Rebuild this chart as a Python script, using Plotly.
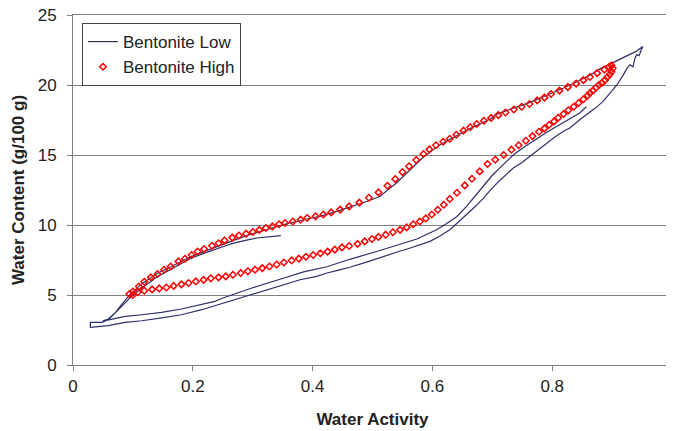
import plotly.graph_objects as go

# ---------------- data ----------------
# Bentonite Low (continuous line through its sorption loops)
low_x = [0.347, 0.327, 0.307, 0.288, 0.268, 0.250, 0.232, 0.215, 0.198, 0.184, 0.170, 0.156, 0.142, 0.128, 0.115,
         0.105, 0.095, 0.085, 0.076, 0.067, 0.059, 0.048, 0.029, 0.029,
         0.059, 0.087, 0.115, 0.148, 0.181, 0.215, 0.237, 0.268, 0.295, 0.323, 0.351, 0.379, 0.407, 0.424, 0.445,
         0.462, 0.490, 0.518, 0.540, 0.563, 0.580, 0.596, 0.612, 0.629, 0.643, 0.657, 0.671, 0.685, 0.699, 0.713,
         0.724, 0.735, 0.749, 0.763, 0.777, 0.791, 0.805, 0.819, 0.830, 0.846, 0.858, 0.872, 0.885, 0.897, 0.908,
         0.919, 0.925, 0.930, 0.935, 0.938, 0.941, 0.945, 0.949, 0.951,
         0.940, 0.925, 0.900, 0.880, 0.863, 0.840, 0.819, 0.790, 0.763, 0.735, 0.707, 0.696, 0.668, 0.640, 0.613,
         0.585, 0.563, 0.540, 0.525, 0.513, 0.495, 0.479, 0.462, 0.446, 0.435, 0.410, 0.390, 0.357, 0.323, 0.295,
         0.268, 0.240, 0.232, 0.198, 0.170, 0.142, 0.115, 0.095, 0.081, 0.070, 0.059, 0.050,
         0.060, 0.087, 0.115, 0.148, 0.181, 0.215, 0.237, 0.248, 0.295, 0.351, 0.385, 0.424, 0.462, 0.507, 0.546,
         0.574, 0.607, 0.624, 0.641, 0.657, 0.670, 0.685, 0.699, 0.713, 0.724, 0.735, 0.749, 0.763, 0.777, 0.791,
         0.805, 0.819, 0.833, 0.846, 0.857]
low_y = [9.24, 9.17, 9.07, 8.90, 8.71, 8.45, 8.19, 7.92, 7.64, 7.33, 7.00, 6.66, 6.33, 5.93, 5.50,
         5.15, 4.79, 4.35, 3.95, 3.55, 3.24, 3.05, 3.04, 2.69,
         2.81, 3.04, 3.16, 3.36, 3.59, 3.95, 4.24, 4.66, 5.02, 5.38, 5.74, 6.09, 6.33, 6.57, 6.80,
         6.98, 7.35, 7.76, 8.05, 8.36, 8.60, 8.83, 9.20, 9.66, 10.20, 10.74, 11.30, 11.90, 12.60, 13.20,
         13.65, 14.07, 14.45, 14.90, 15.40, 15.86, 16.30, 16.69, 16.95, 17.52, 17.88, 18.35, 18.83, 19.40, 20.00,
         20.74, 21.20, 21.45, 21.30, 21.90, 22.17, 22.10, 22.64, 22.75,
         22.40, 22.10, 21.55, 21.15, 20.70, 20.20, 19.79, 19.25, 18.76, 18.35, 17.90, 17.55, 17.00, 16.38, 15.74,
         14.86, 13.95, 13.00, 12.50, 12.05, 11.75, 11.52, 11.29, 11.09, 10.90, 10.60, 10.43, 10.09, 9.66, 9.31,
         8.90, 8.43, 8.35, 7.76, 7.16, 6.57, 5.81, 5.02, 4.31, 3.71, 3.29, 3.15,
         3.22, 3.47, 3.59, 3.76, 4.00, 4.31, 4.54, 4.75, 5.45, 6.20, 6.65, 7.02, 7.55, 8.11, 8.64,
         9.00, 9.66, 10.10, 10.61, 11.33, 12.00, 12.75, 13.50, 14.10, 14.55, 15.00, 15.45, 15.86, 16.25, 16.62,
         16.98, 17.33, 17.68, 18.00, 18.45]

# Bentonite High - desorption branch (upper)
high_des_x = [0.094, 0.100, 0.110, 0.119, 0.130, 0.141, 0.152, 0.163, 0.176, 0.187, 0.198, 0.208, 0.219, 0.232,
              0.243, 0.253, 0.266, 0.277, 0.289, 0.300, 0.311, 0.322, 0.333, 0.344, 0.354, 0.367, 0.380, 0.391,
              0.405, 0.418, 0.431, 0.446, 0.461, 0.478, 0.494, 0.510, 0.525, 0.538, 0.550, 0.561, 0.573, 0.585,
              0.595, 0.606, 0.618, 0.629, 0.640, 0.652, 0.663, 0.674, 0.686, 0.698, 0.710, 0.722, 0.736, 0.749,
              0.762, 0.775, 0.787, 0.798, 0.812, 0.826, 0.840, 0.852, 0.863, 0.875, 0.887, 0.895, 0.899]
high_des_y = [5.07, 5.25, 5.61, 5.95, 6.26, 6.50, 6.80, 7.04, 7.40, 7.59, 7.86, 8.11, 8.29, 8.52,
              8.70, 8.90, 9.10, 9.25, 9.38, 9.50, 9.65, 9.79, 9.90, 10.05, 10.14, 10.25, 10.38, 10.50,
              10.62, 10.75, 10.90, 11.10, 11.33, 11.60, 11.95, 12.33, 12.80, 13.28, 13.78, 14.19, 14.64, 15.07,
              15.40, 15.70, 15.95, 16.16, 16.45, 16.74, 16.98, 17.21, 17.45, 17.65, 17.85, 18.04, 18.25, 18.45,
              18.64, 18.90, 19.10, 19.36, 19.60, 19.85, 20.10, 20.35, 20.57, 20.85, 21.10, 21.30, 21.40]

# Bentonite High - adsorption branch (lower)
high_ads_x = [0.100, 0.108, 0.119, 0.132, 0.144, 0.156, 0.168, 0.181, 0.193, 0.205, 0.218, 0.230, 0.243, 0.255,
              0.267, 0.280, 0.292, 0.304, 0.316, 0.328, 0.340, 0.352, 0.365, 0.377, 0.389, 0.401, 0.413, 0.425,
              0.437, 0.449, 0.461, 0.475, 0.487, 0.499, 0.510, 0.522, 0.534, 0.546, 0.557, 0.568, 0.579, 0.589,
              0.599, 0.609, 0.619, 0.629, 0.641, 0.654, 0.666, 0.679, 0.692, 0.705, 0.719, 0.732, 0.744, 0.756,
              0.767, 0.778, 0.787, 0.795, 0.803, 0.810, 0.819, 0.827, 0.836, 0.844, 0.852, 0.859, 0.863, 0.868,
              0.873, 0.878, 0.883, 0.888, 0.892, 0.896, 0.899, 0.901]
high_ads_y = [5.00, 5.20, 5.31, 5.40, 5.47, 5.54, 5.65, 5.76, 5.86, 5.97, 6.08, 6.19, 6.26, 6.33,
              6.45, 6.57, 6.69, 6.80, 6.92, 7.04, 7.18, 7.32, 7.47, 7.60, 7.73, 7.86, 7.98, 8.10,
              8.24, 8.40, 8.50, 8.65, 8.83, 9.00, 9.15, 9.31, 9.48, 9.65, 9.83, 10.05, 10.25, 10.47,
              10.75, 11.09, 11.45, 11.86, 12.30, 12.83, 13.30, 13.83, 14.36, 14.66, 15.00, 15.38, 15.70, 16.02,
              16.35, 16.66, 16.90, 17.16, 17.40, 17.66, 17.93, 18.19, 18.45, 18.71, 18.98, 19.24, 19.43, 19.60,
              19.80, 20.00, 20.15, 20.35, 20.55, 20.75, 20.95, 21.20]

high_x = high_ads_x + high_des_x[::-1]
high_y = high_ads_y + high_des_y[::-1]

x_ticks = [0, 0.2, 0.4, 0.6, 0.8, 1]
y_ticks = [0, 5, 10, 15, 20, 25]

# ---------------- figure ----------------
FONT = "Liberation Sans, Arial, sans-serif"
TXT = "#222222"
fig = go.Figure()
fig.add_trace(go.Scatter(
    x=low_x, y=low_y, mode="lines", name="Bentonite Low",
    line=dict(color="#2e3068", width=1.2),
))
fig.add_trace(go.Scatter(
    x=high_x, y=high_y, mode="markers", name="Bentonite High",
    marker=dict(symbol="diamond-open", size=5, color="#ff0000", line=dict(width=1.5, color="#ff0000")),
))

axis_common = dict(
    showline=True, linecolor="#808080", linewidth=1, mirror=True,
    ticks="outside", ticklen=5, tickcolor="#808080",
    tickfont=dict(family=FONT, size=17, color=TXT),
    ticklabeloverflow="allow",
    zeroline=False, automargin=False,
)
# the page body keeps its default 8px margin, so margins are set to place the plot area
fig.update_layout(
    width=674, height=431,
    margin=dict(l=65, r=10, t=7, b=74),
    paper_bgcolor="white", plot_bgcolor="white",
    showlegend=True,
    legend=dict(
        x=0.015, y=0.977, xanchor="left", yanchor="top",
        bgcolor="white", bordercolor="#444444", borderwidth=1,
        font=dict(family=FONT, size=17, color=TXT),
        itemwidth=30, tracegroupgap=0,
    ),
    xaxis=dict(
        range=[0, 1], tickvals=x_ticks, showgrid=False, ticklabelstandoff=1,
        title=dict(text="<b>Water Activity</b>", font=dict(family=FONT, size=17, color=TXT), standoff=17),
        **axis_common,
    ),
    yaxis=dict(
        range=[0, 25], tickvals=y_ticks, showgrid=True, gridcolor="#808080", gridwidth=1, ticklabelstandoff=7,
        title=dict(text="<b>Water Content (g/100 g)</b>", font=dict(family=FONT, size=17, color=TXT), standoff=8),
        **axis_common,
    ),
)

fig.write_html("out.html")
